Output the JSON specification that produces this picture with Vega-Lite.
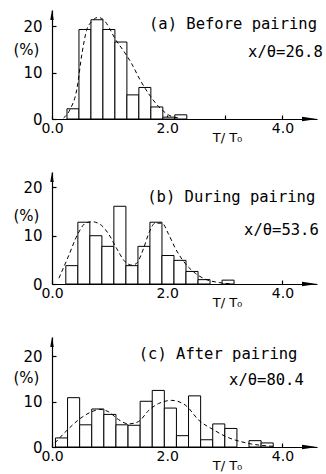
{
  "$schema": "https://vega.github.io/schema/vega-lite/v6.json",
  "padding": {"left": 13, "top": 10, "right": 0, "bottom": 0},
  "spacing": 28,
  "config": {
    "view": {"stroke": null},
    "axis": {"domainColor": "black", "tickColor": "black", "labelColor": "black", "titleColor": "black", "grid": false, "labelFont": "DejaVu Sans", "titleFont": "DejaVu Sans", "titleFontWeight": "normal", "domainWidth": 1.2, "tickWidth": 1.2}
  },
  "datasets": {
    "bars_a": [
      {"x": 0.26, "xe": 0.468, "y": 2.2}, {"x": 0.468, "xe": 0.676, "y": 19.3}, {"x": 0.676, "xe": 0.884, "y": 21.4},
      {"x": 0.884, "xe": 1.092, "y": 19.3}, {"x": 1.092, "xe": 1.3, "y": 16.6}, {"x": 1.3, "xe": 1.508, "y": 5.2},
      {"x": 1.508, "xe": 1.716, "y": 6.8}, {"x": 1.716, "xe": 1.924, "y": 2.6}, {"x": 1.924, "xe": 2.132, "y": 0.4},
      {"x": 2.132, "xe": 2.34, "y": 0.9}
    ],
    "curve_a": [
      {"x": 0.2, "y": 0.2}, {"x": 0.31, "y": 2.0}, {"x": 0.43, "y": 6.3}, {"x": 0.52, "y": 14.1}, {"x": 0.6, "y": 19.1},
      {"x": 0.69, "y": 21.0}, {"x": 0.8, "y": 21.9}, {"x": 0.91, "y": 21.2}, {"x": 1.0, "y": 19.5}, {"x": 1.09, "y": 17.4},
      {"x": 1.23, "y": 14.9}, {"x": 1.38, "y": 12.0}, {"x": 1.53, "y": 8.4}, {"x": 1.67, "y": 5.6}, {"x": 1.85, "y": 2.7},
      {"x": 2.02, "y": 0.9}, {"x": 2.2, "y": 0.2}
    ],
    "bars_b": [
      {"x": 0.24, "xe": 0.449, "y": 3.8}, {"x": 0.449, "xe": 0.657, "y": 12.8}, {"x": 0.657, "xe": 0.866, "y": 10.0},
      {"x": 0.866, "xe": 1.074, "y": 7.8}, {"x": 1.074, "xe": 1.283, "y": 16.1}, {"x": 1.283, "xe": 1.492, "y": 3.8},
      {"x": 1.492, "xe": 1.7, "y": 7.8}, {"x": 1.7, "xe": 1.909, "y": 12.8}, {"x": 1.909, "xe": 2.118, "y": 5.9},
      {"x": 2.118, "xe": 2.326, "y": 4.9}, {"x": 2.326, "xe": 2.535, "y": 2.6}, {"x": 2.535, "xe": 2.743, "y": 0.9},
      {"x": 2.952, "xe": 3.16, "y": 0.8}
    ],
    "curve_b": [
      {"x": 0.12, "y": 1.2}, {"x": 0.28, "y": 5.6}, {"x": 0.45, "y": 10.4}, {"x": 0.57, "y": 12.5}, {"x": 0.69, "y": 12.9},
      {"x": 0.83, "y": 12.4}, {"x": 0.98, "y": 10.4}, {"x": 1.12, "y": 7.4}, {"x": 1.27, "y": 4.6}, {"x": 1.39, "y": 3.9},
      {"x": 1.47, "y": 4.3}, {"x": 1.59, "y": 7.4}, {"x": 1.69, "y": 10.8}, {"x": 1.79, "y": 12.6}, {"x": 1.91, "y": 12.6},
      {"x": 2.02, "y": 10.4}, {"x": 2.14, "y": 7.4}, {"x": 2.31, "y": 4.3}, {"x": 2.49, "y": 2.2}, {"x": 2.66, "y": 1.0},
      {"x": 2.9, "y": 0.3}, {"x": 3.13, "y": 0.0}
    ],
    "bars_c": [
      {"x": 0.06, "xe": 0.27, "y": 2.0}, {"x": 0.27, "xe": 0.48, "y": 10.9}, {"x": 0.48, "xe": 0.69, "y": 4.9},
      {"x": 0.69, "xe": 0.9, "y": 8.4}, {"x": 0.9, "xe": 1.11, "y": 7.2}, {"x": 1.11, "xe": 1.32, "y": 4.9},
      {"x": 1.32, "xe": 1.53, "y": 4.8}, {"x": 1.53, "xe": 1.74, "y": 10.1}, {"x": 1.74, "xe": 1.95, "y": 12.5},
      {"x": 1.95, "xe": 2.16, "y": 8.6}, {"x": 2.16, "xe": 2.37, "y": 2.5}, {"x": 2.37, "xe": 2.58, "y": 11.3},
      {"x": 2.58, "xe": 2.79, "y": 1.6}, {"x": 2.79, "xe": 3.0, "y": 5.1}, {"x": 3.0, "xe": 3.21, "y": 4.1},
      {"x": 3.42, "xe": 3.63, "y": 1.4}, {"x": 3.63, "xe": 3.84, "y": 0.9}
    ],
    "curve_c": [
      {"x": 0.05, "y": 0.9}, {"x": 0.27, "y": 3.8}, {"x": 0.45, "y": 5.9}, {"x": 0.69, "y": 7.8}, {"x": 0.83, "y": 8.3},
      {"x": 0.98, "y": 7.8}, {"x": 1.15, "y": 6.1}, {"x": 1.33, "y": 5.1}, {"x": 1.5, "y": 5.6}, {"x": 1.68, "y": 8.1},
      {"x": 1.85, "y": 9.6}, {"x": 2.08, "y": 10.3}, {"x": 2.32, "y": 9.2}, {"x": 2.55, "y": 5.9}, {"x": 2.79, "y": 3.9},
      {"x": 3.02, "y": 2.3}, {"x": 3.37, "y": 0.9}, {"x": 3.84, "y": 0.15}
    ],
    "text_a": [{"x": 4.6, "y": 20.4, "label": "(a) Before pairing"}, {"x": 4.7, "y": 14.5, "label": "x/θ=26.8"}],
    "text_b": [{"x": 4.57, "y": 18.1, "label": "(b) During pairing"}, {"x": 4.63, "y": 11.2, "label": "x/θ=53.6"}],
    "text_c": [{"x": 4.26, "y": 20.6, "label": "(c) After pairing"}, {"x": 4.37, "y": 14.9, "label": "x/θ=80.4"}],
    "xarrow": [{"x": 4.6, "y": 0}],
    "yarrow_a": [{"x": 0, "y": 23.5}],
    "yarrow_b": [{"x": 0, "y": 23.2}],
    "yarrow_c": [{"x": 0, "y": 24.3}]
  },
  "vconcat": [
    {
      "width": 265, "height": 109,
      "layer": [
        {"data": {"name": "bars_a"}, "mark": {"type": "rect", "fill": "white", "stroke": "black", "strokeWidth": 1},
         "encoding": {
           "x": {"field": "x", "type": "quantitative", "scale": {"domain": [0, 4.6], "nice": false},
                 "axis": {"values": [0, 1, 2, 3, 4], "labelExpr": "datum.value % 2 == 0 ? format(datum.value, '.1f') : ''", "tickSize": -4, "labelPadding": 6, "labelFontSize": 14, "labelFlush": false, "labelOverlap": false, "title": "T/ T₀", "titleFontSize": 13, "titleX": 175, "titleY": 12, "titleBaseline": "top", "titleAlign": "center"}},
           "x2": {"field": "xe"},
           "y": {"field": "y", "type": "quantitative", "scale": {"domain": [0, 23.5], "nice": false},
                 "axis": {"values": [0, 10, 20], "tickSize": -4, "labelPadding": 14, "labelFontSize": 15, "title": "(%)", "titleFontSize": 15, "titleAngle": 0, "titleAlign": "left", "titleBaseline": "middle", "titleX": -39, "titleY": 39}},
           "y2": {"datum": 0}
         }},
        {"data": {"name": "curve_a"}, "mark": {"type": "line", "interpolate": "monotone", "strokeDash": [4, 3], "strokeWidth": 1, "color": "black"},
         "encoding": {"x": {"field": "x", "type": "quantitative"}, "y": {"field": "y", "type": "quantitative"}}},
        {"data": {"name": "xarrow"}, "mark": {"type": "point", "shape": "M-2,-0.3L0,0L-2,0.3Z", "filled": true, "color": "black", "size": 225, "opacity": 1},
         "encoding": {"x": {"field": "x", "type": "quantitative"}, "y": {"field": "y", "type": "quantitative"}}},
        {"data": {"name": "yarrow_a"}, "mark": {"type": "point", "shape": "M-0.35,2L0,0L0.35,2Z", "filled": true, "color": "black", "size": 100, "opacity": 1},
         "encoding": {"x": {"field": "x", "type": "quantitative"}, "y": {"field": "y", "type": "quantitative"}}},
        {"data": {"name": "text_a"}, "mark": {"type": "text", "font": "DejaVu Sans Mono", "fontSize": 15.5, "align": "right", "baseline": "middle", "color": "black"},
         "encoding": {"x": {"field": "x", "type": "quantitative"}, "y": {"field": "y", "type": "quantitative"}, "text": {"field": "label"}}}
      ]
    },
    {
      "width": 265, "height": 112,
      "layer": [
        {"data": {"name": "bars_b"}, "mark": {"type": "rect", "fill": "white", "stroke": "black", "strokeWidth": 1},
         "encoding": {
           "x": {"field": "x", "type": "quantitative", "scale": {"domain": [0, 4.6], "nice": false},
                 "axis": {"values": [0, 1, 2, 3, 4], "labelExpr": "datum.value % 2 == 0 ? format(datum.value, '.1f') : ''", "tickSize": -4, "labelPadding": 6, "labelFontSize": 14, "labelFlush": false, "labelOverlap": false, "title": "T/ T₀", "titleFontSize": 13, "titleX": 175, "titleY": 12, "titleBaseline": "top", "titleAlign": "center"}},
           "x2": {"field": "xe"},
           "y": {"field": "y", "type": "quantitative", "scale": {"domain": [0, 23.2], "nice": false},
                 "axis": {"values": [0, 10, 20], "tickSize": -4, "labelPadding": 14, "labelFontSize": 15, "title": "(%)", "titleFontSize": 15, "titleAngle": 0, "titleAlign": "left", "titleBaseline": "middle", "titleX": -39, "titleY": 43}},
           "y2": {"datum": 0}
         }},
        {"data": {"name": "curve_b"}, "mark": {"type": "line", "interpolate": "monotone", "strokeDash": [4, 3], "strokeWidth": 1, "color": "black"},
         "encoding": {"x": {"field": "x", "type": "quantitative"}, "y": {"field": "y", "type": "quantitative"}}},
        {"data": {"name": "xarrow"}, "mark": {"type": "point", "shape": "M-2,-0.3L0,0L-2,0.3Z", "filled": true, "color": "black", "size": 225, "opacity": 1},
         "encoding": {"x": {"field": "x", "type": "quantitative"}, "y": {"field": "y", "type": "quantitative"}}},
        {"data": {"name": "yarrow_b"}, "mark": {"type": "point", "shape": "M-0.35,2L0,0L0.35,2Z", "filled": true, "color": "black", "size": 100, "opacity": 1},
         "encoding": {"x": {"field": "x", "type": "quantitative"}, "y": {"field": "y", "type": "quantitative"}}},
        {"data": {"name": "text_b"}, "mark": {"type": "text", "font": "DejaVu Sans Mono", "fontSize": 15.5, "align": "right", "baseline": "middle", "color": "black"},
         "encoding": {"x": {"field": "x", "type": "quantitative"}, "y": {"field": "y", "type": "quantitative"}, "text": {"field": "label"}}}
      ]
    },
    {
      "width": 265, "height": 110,
      "layer": [
        {"data": {"name": "bars_c"}, "mark": {"type": "rect", "fill": "white", "stroke": "black", "strokeWidth": 1},
         "encoding": {
           "x": {"field": "x", "type": "quantitative", "scale": {"domain": [0, 4.6], "nice": false},
                 "axis": {"values": [0, 1, 2, 3, 4], "labelExpr": "datum.value % 2 == 0 ? format(datum.value, '.1f') : ''", "tickSize": -4, "labelPadding": 6, "labelFontSize": 14, "labelFlush": false, "labelOverlap": false, "title": "T/ T₀", "titleFontSize": 13, "titleX": 175, "titleY": 12, "titleBaseline": "top", "titleAlign": "center"}},
           "x2": {"field": "xe"},
           "y": {"field": "y", "type": "quantitative", "scale": {"domain": [0, 24.3], "nice": false},
                 "axis": {"values": [0, 10, 20], "tickSize": -4, "labelPadding": 14, "labelFontSize": 15, "title": "(%)", "titleFontSize": 15, "titleAngle": 0, "titleAlign": "left", "titleBaseline": "middle", "titleX": -39, "titleY": 40}},
           "y2": {"datum": 0}
         }},
        {"data": {"name": "curve_c"}, "mark": {"type": "line", "interpolate": "monotone", "strokeDash": [4, 3], "strokeWidth": 1, "color": "black"},
         "encoding": {"x": {"field": "x", "type": "quantitative"}, "y": {"field": "y", "type": "quantitative"}}},
        {"data": {"name": "xarrow"}, "mark": {"type": "point", "shape": "M-2,-0.3L0,0L-2,0.3Z", "filled": true, "color": "black", "size": 225, "opacity": 1},
         "encoding": {"x": {"field": "x", "type": "quantitative"}, "y": {"field": "y", "type": "quantitative"}}},
        {"data": {"name": "yarrow_c"}, "mark": {"type": "point", "shape": "M-0.35,2L0,0L0.35,2Z", "filled": true, "color": "black", "size": 100, "opacity": 1},
         "encoding": {"x": {"field": "x", "type": "quantitative"}, "y": {"field": "y", "type": "quantitative"}}},
        {"data": {"name": "text_c"}, "mark": {"type": "text", "font": "DejaVu Sans Mono", "fontSize": 15.5, "align": "right", "baseline": "middle", "color": "black"},
         "encoding": {"x": {"field": "x", "type": "quantitative"}, "y": {"field": "y", "type": "quantitative"}, "text": {"field": "label"}}}
      ]
    }
  ]
}
